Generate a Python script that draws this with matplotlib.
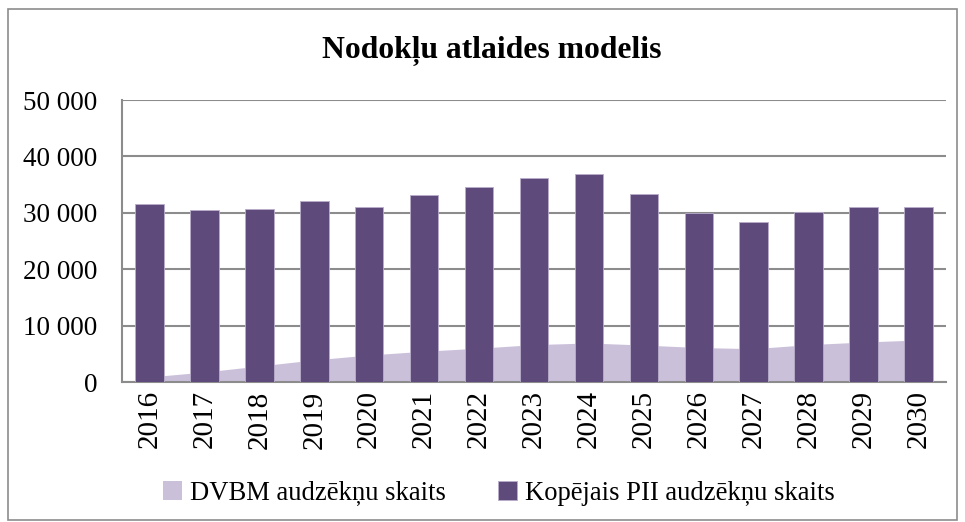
import matplotlib.pyplot as plt
import numpy as np

years = ["2016", "2017", "2018", "2019", "2020", "2021", "2022", "2023",
         "2024", "2025", "2026", "2027", "2028", "2029", "2030"]
dvbm = [900, 1770, 2840, 3920, 4790, 5460, 6000, 6630,
        6920, 6550, 6110, 5910, 6630, 7090, 7450]
pii_total = [31560, 30440, 30730, 32090, 31030, 33100, 34520, 36220,
             36880, 33330, 29900, 28420, 30090, 31080, 31080]

light = "#CBC0DA"
dark = "#5F4B7B"
grid_col = "#8C8C8C"

plt.rcParams["font.family"] = ["Liberation Serif", "DejaVu Serif"]

fig = plt.figure(figsize=(9.65, 5.22), dpi=100)
ax = fig.add_axes([122 / 965, 1 - 382 / 522, (946 - 122) / 965, (382 - 100) / 522])

x = np.arange(len(years))
ax.fill_between(x, dvbm, 0, color=light, lw=0, zorder=2, label="DVBM audzēkņu skaits")
ax.bar(x, pii_total, width=0.52, color=dark, edgecolor="#B9ADCB", linewidth=0.6,
       zorder=3, label="Kopējais PII audzēkņu skaits")

ax.set_xlim(-0.5, len(years) - 0.5)
ax.set_ylim(0, 50000)
ax.set_yticks(range(0, 50001, 10000))
ax.set_yticklabels(["0" if v == 0 else f"{v // 1000} 000" for v in range(0, 50001, 10000)])
ax.set_xticks(x)
ax.set_xticklabels(years, rotation=90)
ax.tick_params(axis="both", length=0)
ax.tick_params(axis="y", pad=18, labelsize=19.5)
ax.tick_params(axis="x", pad=6, labelsize=21)
ax.yaxis.grid(True, color=grid_col, lw=1.5, zorder=1)
ax.set_axisbelow(True)
for side in ["top", "right"]:
    ax.spines[side].set_visible(False)
ax.spines["left"].set_color(grid_col)
ax.spines["left"].set_linewidth(1.5)
ax.spines["bottom"].set_color(grid_col)
ax.spines["bottom"].set_linewidth(1.5)

fig.text(0.51, 1 - 51 / 522, "Nodokļu atlaides modelis", ha="center", va="center",
         fontsize=22.8, fontweight="bold")

handles, labels = ax.get_legend_handles_labels()
fig.legend(handles, labels, loc="center", bbox_to_anchor=(0.517, 1 - 493 / 522),
           ncol=2, frameon=False, fontsize=19.2, handlelength=0.7, handleheight=0.7,
           handletextpad=0.3, columnspacing=1.95)

border = plt.Rectangle((8 / 965, 2 / 522), 949 / 965, 511 / 522, transform=fig.transFigure,
                       fill=False, edgecolor="#8C8C8C", lw=1.2)
fig.patches.append(border)

fig.savefig("out.png", dpi=100)
